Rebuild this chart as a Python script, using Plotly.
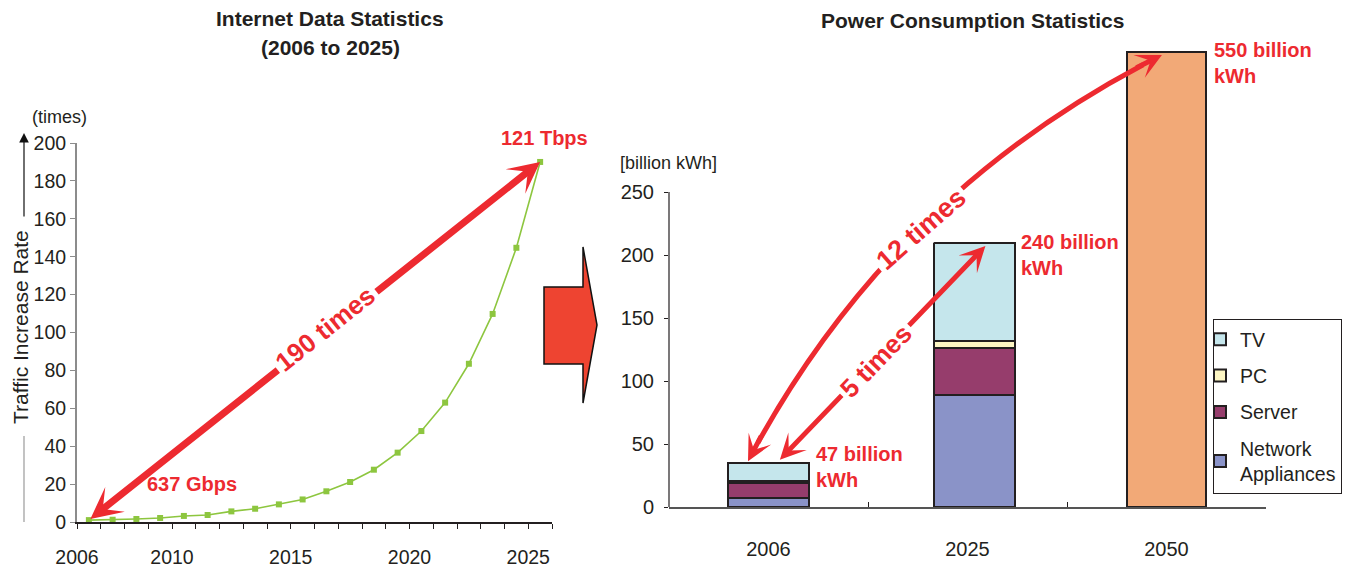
import plotly.graph_objects as go

W, H = 1356, 570

# Internet traffic growth, relative to 2006 (times)
years = list(range(2006, 2026))
traffic_rate = [1.0, 1.2, 1.6, 2.1, 3.2, 3.7, 5.6, 7.0, 9.3, 11.9,
                16.2, 21.1, 27.6, 36.6, 48.0, 63.0, 83.5, 109.8, 144.7, 190.0]
year_labels = [2006, 2010, 2015, 2020, 2025]
rate_ticks = list(range(0, 201, 20))

# Power consumption by equipment type (billion kWh)
power_years = ["2006", "2025", "2050"]
network_appliances = [7.4, 88.9]
server = [11.4, 37.0]
pc = [1.8, 5.8]
tv = [14.5, 77.5]
total_2050 = [361.0]
reported_totals = [47, 240, 550]
power_ticks = list(range(0, 251, 50))

RED = "#ED2A30"
INK = "#231F20"
FONT = "Liberation Sans, Arial, sans-serif"

BAR_W = 0.41
stack_offsets = [-BAR_W / 2, -BAR_W / 2 + 0.035]


def px(x):
    return x / W


def py(y):
    return 1 - y / H


fig = go.Figure()

# ---- left panel: traffic growth curve
fig.add_trace(go.Scatter(
    x=years, y=traffic_rate, mode="lines+markers",
    line=dict(color="#8DC63F", width=1.6),
    marker=dict(symbol="square", size=6, color="#8DC63F"),
    showlegend=False, xaxis="x", yaxis="y",
))

# ---- right panel: stacked consumption bars
segments = [
    ("Network<br>Appliances", network_appliances, "#8A93C8", 4),
    ("Server", server, "#963D6C", 3),
    ("PC", pc, "#FDF6C3", 2),
    ("TV", tv, "#C5E6EC", 1),
]
for name, vals, color, rank in segments:
    fig.add_trace(go.Bar(
        x=power_years[:len(vals)], y=vals, name=name,
        marker=dict(color=color, line=dict(color=INK, width=2)),
        width=BAR_W, offset=stack_offsets, legendgroup=name, legendrank=rank,
        xaxis="x2", yaxis="y2",
    ))
fig.add_trace(go.Bar(
    x=power_years[2:], y=total_2050,
    marker=dict(color="#F2A977", line=dict(color=INK, width=2)),
    width=0.40, showlegend=False, xaxis="x2", yaxis="y2",
))

totals = [a + b + c + d for a, b, c, d in zip(network_appliances, server, pc, tv)] + total_2050

shapes = []
annotations = []

# right y axis line only spans the labelled range
shapes.append(dict(type="line", xref="x2 domain", yref="y2", x0=0, x1=0,
                   y0=0, y1=power_ticks[-1], line=dict(color=INK, width=1.2)))

# block arrow between the panels
arrow_pts = [(544, 287), (583, 287), (583, 247), (597, 325), (583, 403), (583, 364), (544, 364)]
path = "M " + " L ".join(f"{px(x):.5f},{py(y):.5f}" for x, y in arrow_pts) + " Z"
shapes.append(dict(type="path", xref="paper", yref="paper", path=path,
                   fillcolor="#EE4431", line=dict(color="#111111", width=1.5)))

# y-axis title guide line with arrow
shapes.append(dict(type="line", xref="paper", yref="paper",
                   x0=px(24), x1=px(24), y0=py(436), y1=py(522),
                   line=dict(color="#9A9A9A", width=1.2)))
annotations.append(dict(xref="paper", yref="paper", x=px(24), y=py(133),
                        ax=0, ay=218 - 133,
                        text="", showarrow=True, arrowhead=2, arrowsize=1.6,
                        arrowwidth=1.2, arrowcolor="#111111"))

# curved "12 times" arrow (quadratic curve in data space)
P0 = (-0.103, totals[0] + 1.3)
C = (0.611, 250.0)
P2 = (1.977, totals[2] - 2.3)


def bez(t):
    return tuple((1 - t) ** 2 * p + 2 * t * (1 - t) * c + t ** 2 * q for p, c, q in zip(P0, C, P2))


def sub_ctrl(a, b):
    return tuple(p * (1 - a) * (1 - b) + c * ((1 - a) * b + a * (1 - b)) + q * a * b
                 for p, c, q in zip(P0, C, P2))


ta, tb = 0.035, 0.965
s0, s1, sc = bez(ta), bez(tb), sub_ctrl(ta, tb)
shapes.append(dict(type="path", xref="x2", yref="y2",
                   path=f"M {s0[0]:.4f},{s0[1]:.4f} Q {sc[0]:.4f},{sc[1]:.4f} {s1[0]:.4f},{s1[1]:.4f}",
                   line=dict(color=RED, width=5)))
annotations.append(dict(xref="x2", yref="y2", x=P0[0], y=P0[1], ax=14, ay=-26.5,
                        text="", showarrow=True, arrowhead=3, arrowsize=0.85,
                        arrowwidth=5, arrowcolor=RED, standoff=0))
annotations.append(dict(xref="x2", yref="y2", x=P2[0], y=P2[1], ax=-27, ay=13.5,
                        text="", showarrow=True, arrowhead=3, arrowsize=0.85,
                        arrowwidth=5, arrowcolor=RED, standoff=0))

# straight double-headed arrows
annotations.append(dict(xref="x", yref="y", x=years[-1], y=traffic_rate[-1],
                        axref="x", ayref="y", ax=years[0], ay=traffic_rate[0],
                        text="", showarrow=True, arrowside="end+start",
                        arrowhead=3, startarrowhead=3, arrowsize=0.75, startarrowsize=0.75,
                        arrowwidth=7, arrowcolor=RED, standoff=0, startstandoff=0))
annotations.append(dict(xref="x2", yref="y2", x=1.09, y=totals[1] - 2,
                        axref="x2", ayref="y2", ax=0.05, ay=totals[0] + 1.3,
                        text="", showarrow=True, arrowside="end+start",
                        arrowhead=3, startarrowhead=3, arrowsize=0.85, startarrowsize=0.85,
                        arrowwidth=5, arrowcolor=RED, standoff=0, startstandoff=0))


def label(text, x, y, size=20, angle=0, xanchor="center", yanchor="middle",
          color=RED, bg=None, align="center"):
    d = dict(xref="paper", yref="paper", x=px(x), y=py(y), text=text, showarrow=False,
             textangle=angle, xanchor=xanchor, yanchor=yanchor, align=align,
             font=dict(family=FONT, size=size, color=color))
    if bg:
        d.update(bgcolor=bg, borderpad=3)
    annotations.append(d)


# arrow captions
label("<b>190 times</b>", 325, 329, size=26, angle=-38.6, bg="white")
label("<b>12 times</b>", 921, 229, size=27, angle=-41, bg="white")
label("<b>5 times</b>", 876, 361, size=26, angle=-46, bg="white")

# value callouts
label("<b>637 Gbps</b>", 192, 484)
label("<b>121 Tbps</b>", 544, 138)
label(f"<b>{reported_totals[0]} billion<br>kWh</b>", 814, 441, xanchor="left", yanchor="top", align="left")
label(f"<b>{reported_totals[1]} billion<br>kWh</b>", 1019, 229, xanchor="left", yanchor="top", align="left")
label(f"<b>{reported_totals[2]} billion<br>kWh</b>", 1212, 37, xanchor="left", yanchor="top", align="left")

# titles and unit labels
label("<b>Internet Data Statistics</b>", 330, 19, size=21, color=INK)
label("<b>(2006 to 2025)</b>", 330, 47, size=21, color=INK)
label("<b>Power Consumption Statistics</b>", 972, 20, size=21, color=INK)
label("(times)", 59, 117, size=18, color=INK)
label("[billion kWh]", 668, 163, size=18, color=INK)
label("Traffic Increase Rate", 20, 327, size=21, angle=-90, color=INK)

fig.update_layout(
    width=W, height=H, autosize=False,
    margin=dict(l=0, r=0, t=0, b=0, autoexpand=False),
    paper_bgcolor="white", plot_bgcolor="white",
    font=dict(family=FONT, size=19, color=INK),
    barmode="stack",
    shapes=shapes, annotations=annotations,
    xaxis=dict(
        domain=[px(77), px(552)], range=[2005.5, 2025.5], anchor="y", automargin=False,
        showline=True, linecolor=INK, linewidth=2,
        tickvals=[y - 0.5 for y in year_labels], ticktext=[str(y) for y in year_labels],
        ticks="outside", ticklen=5, tickcolor=INK, ticklabelstandoff=12,
        minor=dict(tick0=2005.5, dtick=1, ticks="outside", ticklen=5, tickcolor=INK),
        showgrid=False, zeroline=False, tickfont=dict(size=19.5),
    ),
    yaxis=dict(
        domain=[py(522), py(143)], range=[0, 200], anchor="x", automargin=False,
        tickvals=rate_ticks, showline=True, linecolor="#8C8C8C", linewidth=2,
        ticks="outside", ticklen=5, tickcolor="#8C8C8C",
        showgrid=False, zeroline=False, tickfont=dict(size=19.5),
    ),
    xaxis2=dict(
        domain=[px(669), px(1266)], type="category", categoryorder="array",
        categoryarray=power_years, range=[-0.5, 2.5], anchor="y2", automargin=False,
        showline=True, linecolor="#555555", linewidth=1.5,
        ticks="inside", tickson="boundaries", ticklen=5, tickcolor=INK,
        ticklabelstandoff=23, showgrid=False, zeroline=False, tickfont=dict(size=20),
    ),
    yaxis2=dict(
        domain=[py(507), py(40)], range=[0, 467 / 1.26], anchor="x2", automargin=False,
        tickvals=power_ticks, showline=False,
        ticks="outside", ticklen=4, tickcolor=INK, ticklabelstandoff=6,
        showgrid=False, zeroline=False, tickfont=dict(size=20),
    ),
    legend=dict(
        x=px(1213), y=py(319), xanchor="left", yanchor="top",
        bgcolor="white", bordercolor=INK, borderwidth=1,
        font=dict(size=19.5, color=INK), tracegroupgap=8, indentation=-14,
    ),
)

fig.write_html("out.html")
